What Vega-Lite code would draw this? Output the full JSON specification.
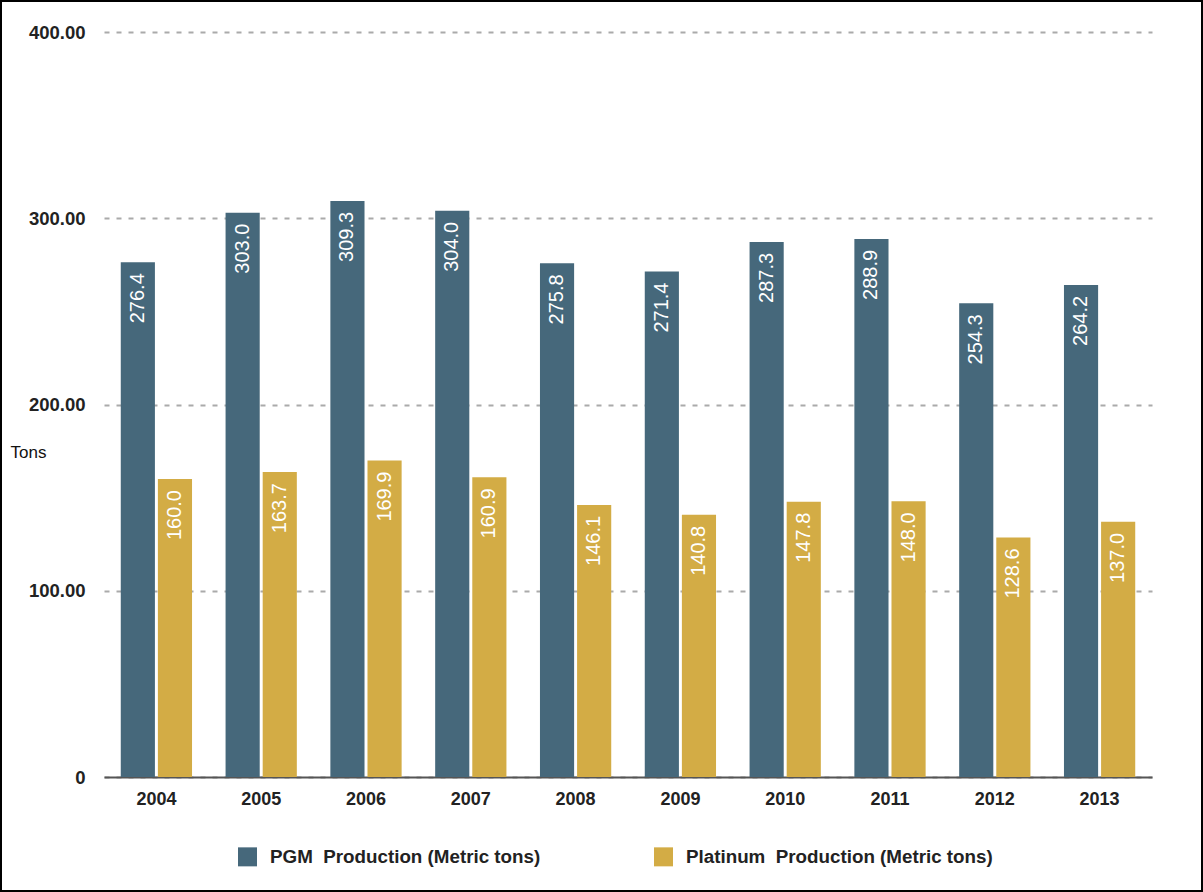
{
  "$schema": "https://vega.github.io/schema/vega-lite/v6.json",
  "width": 1203,
  "height": 892,
  "autosize": {"type": "none"},
  "padding": 0,
  "background": "white",
  "config": {
    "view": {"stroke": "#000000", "strokeWidth": 4},
    "font": "Liberation Sans"
  },
  "data": {
    "values": [
      {"year": "2004", "series": "PGM\u00a0 Production (Metric tons)", "value": 276.4},
      {"year": "2005", "series": "PGM\u00a0 Production (Metric tons)", "value": 303.0},
      {"year": "2006", "series": "PGM\u00a0 Production (Metric tons)", "value": 309.3},
      {"year": "2007", "series": "PGM\u00a0 Production (Metric tons)", "value": 304.0},
      {"year": "2008", "series": "PGM\u00a0 Production (Metric tons)", "value": 275.8},
      {"year": "2009", "series": "PGM\u00a0 Production (Metric tons)", "value": 271.4},
      {"year": "2010", "series": "PGM\u00a0 Production (Metric tons)", "value": 287.3},
      {"year": "2011", "series": "PGM\u00a0 Production (Metric tons)", "value": 288.9},
      {"year": "2012", "series": "PGM\u00a0 Production (Metric tons)", "value": 254.3},
      {"year": "2013", "series": "PGM\u00a0 Production (Metric tons)", "value": 264.2},
      {"year": "2004", "series": "Platinum\u00a0 Production (Metric tons)", "value": 160.0},
      {"year": "2005", "series": "Platinum\u00a0 Production (Metric tons)", "value": 163.7},
      {"year": "2006", "series": "Platinum\u00a0 Production (Metric tons)", "value": 169.9},
      {"year": "2007", "series": "Platinum\u00a0 Production (Metric tons)", "value": 160.9},
      {"year": "2008", "series": "Platinum\u00a0 Production (Metric tons)", "value": 146.1},
      {"year": "2009", "series": "Platinum\u00a0 Production (Metric tons)", "value": 140.8},
      {"year": "2010", "series": "Platinum\u00a0 Production (Metric tons)", "value": 147.8},
      {"year": "2011", "series": "Platinum\u00a0 Production (Metric tons)", "value": 148.0},
      {"year": "2012", "series": "Platinum\u00a0 Production (Metric tons)", "value": 128.6},
      {"year": "2013", "series": "Platinum\u00a0 Production (Metric tons)", "value": 137.0}
    ]
  },
  "encoding": {
    "x": {
      "field": "year",
      "type": "nominal",
      "scale": {"range": [104, 1152], "paddingInner": 0.32, "paddingOuter": 0.16},
      "axis": {
        "title": null,
        "offset": -115,
        "labelAngle": 0,
        "labelFont": "Liberation Sans",
        "labelFontSize": 18,
        "labelFontWeight": "bold",
        "labelColor": "#222222",
        "labelPadding": 13,
        "ticks": false,
        "domainColor": "#555555",
        "domainWidth": 2,
        "grid": false
      }
    },
    "xOffset": {
      "field": "series",
      "type": "nominal",
      "scale": {"paddingInner": 0.08, "paddingOuter": 0}
    },
    "y": {
      "field": "value",
      "type": "quantitative",
      "scale": {"domain": [0, 400], "range": [777, 32], "nice": false},
      "axis": {
        "offset": -104,
        "values": [0, 100, 200, 300, 400],
        "labelExpr": "datum.value == 0 ? '0' : format(datum.value, '.2f')",
        "labelFont": "Liberation Sans",
        "labelFontSize": 18.5,
        "labelFontWeight": "bold",
        "labelColor": "#222222",
        "labelPadding": 19,
        "ticks": false,
        "domain": false,
        "grid": true,
        "gridDash": [5, 7],
        "gridColor": "#aaaaaa",
        "gridWidth": 2,
        "title": "Tons",
        "titleAngle": 0,
        "titleX": -94,
        "titleY": 452,
        "titleAlign": "left",
        "titleBaseline": "middle",
        "titleFont": "Liberation Sans",
        "titleFontSize": 17,
        "titleFontWeight": "normal",
        "titleColor": "#111111"
      }
    }
  },
  "layer": [
    {
      "mark": {"type": "bar"},
      "encoding": {
        "color": {
          "field": "series",
          "type": "nominal",
          "scale": {"range": ["#46687b", "#d3ac45"]},
          "legend": {
            "title": null,
            "orient": "none",
            "legendX": 238,
            "legendY": 847,
            "direction": "horizontal",
            "symbolType": "square",
            "symbolSize": 361,
            "symbolStrokeWidth": 0,
            "symbolOpacity": 1,
            "labelFont": "Liberation Sans",
            "labelFontSize": 18.8,
            "labelFontWeight": "bold",
            "labelColor": "#222222",
            "labelOffset": 13,
            "labelLimit": 0,
            "columnPadding": 113
          }
        }
      }
    },
    {
      "mark": {
        "type": "text",
        "angle": 270,
        "align": "right",
        "baseline": "middle",
        "dx": -11,
        "color": "#ffffff",
        "font": "Liberation Sans",
        "fontSize": 20
      },
      "encoding": {
        "text": {"field": "value", "type": "quantitative", "format": ".1f"}
      }
    }
  ]
}
